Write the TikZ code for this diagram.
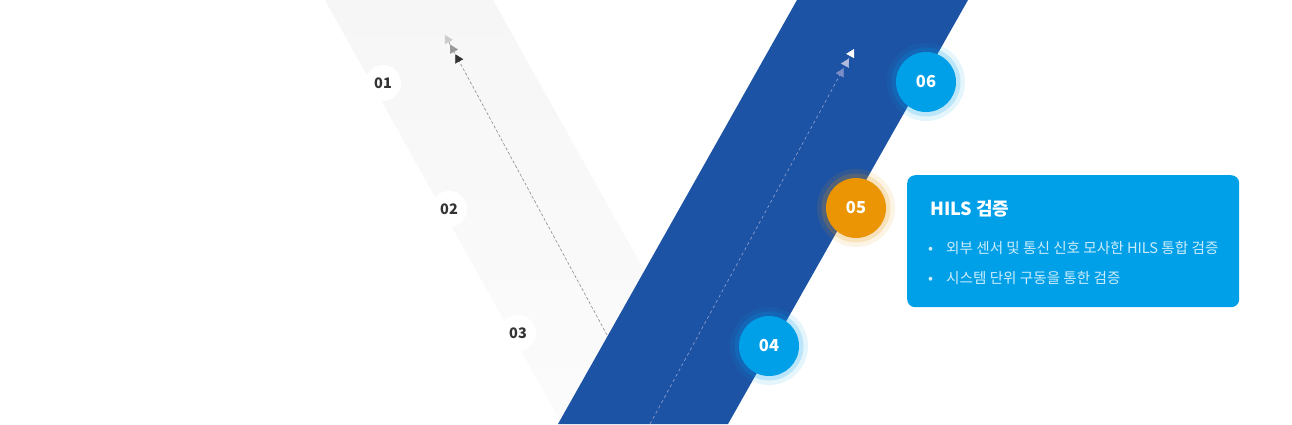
\documentclass[tikz,border=0pt]{standalone}
\usepackage{fontspec}
\setmainfont{Noto Sans CJK KR}
\usetikzlibrary{arrows.meta}
\definecolor{bandblue}{HTML}{1C53A5}
\definecolor{dotblue}{HTML}{00A0E9}
\definecolor{dotorange}{HTML}{EB9505}
\definecolor{tipblue}{HTML}{7B8CC6}
\tikzset{
  numdot/.style={circle, fill=white, minimum size=36pt, inner sep=0pt,
    text=black!80, font=\fontsize{14.5}{14.5}\selectfont\bfseries},
  stepdot/.style={circle, fill=#1, minimum size=60pt, inner sep=0pt,
    preaction={draw=#1, draw opacity=.10, line width=18pt},
    preaction={draw=#1, draw opacity=.18, line width=9pt},
    text=white, font=\fontsize{16.5}{16.5}\selectfont\bfseries},
  grayflow/.style={draw=black!45, line width=.6pt, dash pattern=on 3pt off 2pt,
    -{Triangle[length=8pt,width=9pt,color=black!80,sep=3pt]
      Triangle[length=8pt,width=9pt,color=black!40,sep=3pt]
      Triangle[length=8pt,width=9pt,color=black!20]}},
  blueflow/.style={draw=tipblue!80!white, line width=.6pt, dash pattern=on 3pt off 3pt,
    -{Triangle[length=8pt,width=9pt,color=tipblue,sep=3pt]
      Triangle[length=8pt,width=9pt,color=tipblue!60!white,sep=3pt]
      Triangle[length=8pt,width=9pt,color=white]}},
  infobox/.style={fill=dotblue, rounded corners=8pt, minimum width=332pt,
    minimum height=132pt, inner sep=0pt},
  itemtext/.style={anchor=base west, inner sep=0pt, text=white!80!dotblue,
    font=\fontsize{14.6}{14.6}\selectfont}
}
\begin{document}
\begin{tikzpicture}[x=1pt,y=-1pt]
  \useasboundingbox (0,0) rectangle (1292,424);
  \fill[white] (0,0) rectangle (1292,424);
  \shade[top color=black!3.5, bottom color=black!1.5] (325,0) -- (493,0) -- (730,424) -- (562,424) -- cycle;
  \fill[bandblue] (797,0) -- (968,0) -- (728,424) -- (558,424) -- cycle;

  \coordinate (g0) at (607,335);
  \coordinate (g1) at (445,35);
  \draw[grayflow] (g0) -- (g1);
  \coordinate (b0) at (650,424);
  \coordinate (b1) at (854,49);
  \draw[blueflow] (b0) -- (b1);

  \node[numdot] (n1) at (383,83) {01};
  \node[numdot] (n2) at (449,209) {02};
  \node[numdot] (n3) at (518,333) {03};
  \node[stepdot=dotblue] (n4) at (769,346) {04};
  \node[stepdot=dotorange] (n5) at (856,208) {05};
  \node[stepdot=dotblue] (n6) at (926,82) {06};

  \node[infobox, anchor=north west] (box) at (907,175) {};
  \node[anchor=base west, inner sep=0pt, text=white, font=\fontsize{18}{18}\selectfont\bfseries] (title) at (930,215) {HILS 검증};
  \node[itemtext] (item1) at (928,253) {\makebox[18pt][l]{•}외부 센서 및 통신 신호 모사한 HILS 통합 검증};
  \node[itemtext] (item2) at (928,283) {\makebox[18pt][l]{•}시스템 단위 구동을 통한 검증};
\end{tikzpicture}
\end{document}
